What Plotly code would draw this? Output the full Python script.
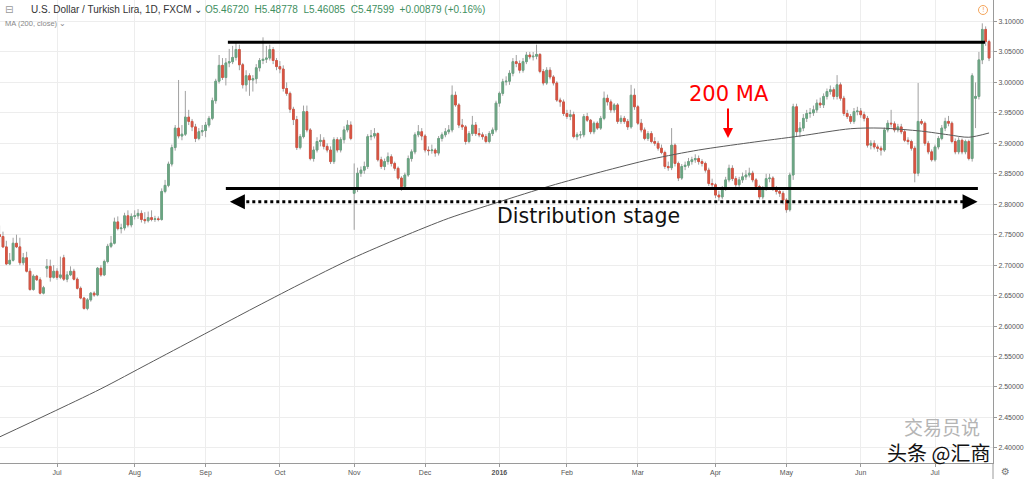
import pandas as pd
import plotly.graph_objects as go

# ---------------- data (USD/TRY daily) ----------------
opens = [
 2.750,2.747,2.730,2.702,2.708,2.736,2.730,2.704,2.712,2.690,
 2.660,2.682,2.676,2.654,2.695,2.698,2.680,2.690,2.680,2.712,
 2.677,2.684,2.690,2.677,2.662,2.646,2.629,2.643,2.654,2.651,
 2.695,2.684,2.706,2.731,2.736,2.771,2.760,2.761,2.781,2.766,
 2.780,2.781,2.785,2.775,2.773,2.778,2.775,2.776,2.775,2.821,
 2.831,2.866,2.893,2.925,2.912,2.915,2.943,2.936,2.927,2.908,
 2.919,2.921,2.930,2.941,2.970,3.002,3.028,3.008,3.032,3.034,
 3.041,3.054,3.029,2.996,3.011,3.004,3.006,3.024,3.036,3.038,
 3.040,3.054,3.036,3.026,3.022,2.990,2.982,2.956,2.939,2.893,
 2.911,2.952,2.922,2.875,2.889,2.903,2.905,2.895,2.889,2.870,
 2.906,2.889,2.906,2.922,2.930,2.818,2.826,2.851,2.856,2.862,
 2.911,2.912,2.916,2.873,2.862,2.870,2.878,2.867,2.859,2.843,
 2.829,2.848,2.875,2.886,2.914,2.919,2.912,2.889,2.888,2.889,
 2.884,2.908,2.914,2.919,2.922,2.979,2.963,2.930,2.927,2.903,
 2.916,2.930,2.916,2.914,2.911,2.903,2.916,2.922,2.966,2.982,
 3.001,3.002,3.015,3.034,3.031,3.020,3.034,3.045,3.042,3.043,
 3.046,3.018,2.999,3.020,3.009,2.999,2.971,2.968,2.949,2.944,
 2.947,2.911,2.914,2.914,2.944,2.938,2.919,2.933,2.925,2.941,
 2.974,2.968,2.955,2.963,2.936,2.941,2.936,2.927,2.979,2.960,
 2.933,2.922,2.908,2.916,2.903,2.900,2.892,2.885,2.862,2.860,
 2.897,2.867,2.843,2.862,2.864,2.870,2.873,2.875,2.870,2.867,
 2.856,2.834,2.832,2.815,2.812,2.826,2.840,2.859,2.842,2.832,
 2.840,2.845,2.848,2.851,2.840,2.829,2.812,2.826,2.842,2.843,
 2.826,2.821,2.818,2.807,2.791,2.848,2.960,2.919,2.925,2.941,
 2.949,2.950,2.955,2.966,2.963,2.977,2.985,2.988,2.977,2.996,
 2.974,2.949,2.944,2.936,2.952,2.953,2.947,2.941,2.897,2.900,
 2.894,2.892,2.889,2.922,2.933,2.932,2.922,2.927,2.919,2.905,
 2.903,2.892,2.851,2.936,2.933,2.900,2.886,2.873,2.894,2.908,
 2.925,2.936,2.933,2.903,2.886,2.905,2.886,2.903,2.875,2.974,
 2.977,3.037,3.087,3.067]
highs = [
 2.765,2.755,2.740,2.720,2.745,2.750,2.745,2.720,2.722,2.695,
 2.685,2.684,2.680,2.666,2.710,2.709,2.700,2.695,2.714,2.717,
 2.690,2.698,2.694,2.680,2.665,2.648,2.646,2.656,2.657,2.697,
 2.700,2.709,2.735,2.748,2.778,2.780,2.768,2.786,2.790,2.785,
 2.790,2.792,2.790,2.787,2.788,2.790,2.781,2.780,2.826,2.840,
 2.870,2.898,2.930,3.004,2.930,2.986,2.955,2.940,2.932,2.925,
 2.930,2.935,2.945,2.975,3.006,3.045,3.040,3.040,3.055,3.060,
 3.065,3.062,3.032,3.020,3.015,3.012,3.030,3.040,3.074,3.060,
 3.062,3.058,3.040,3.035,3.028,3.000,2.985,2.960,2.945,2.915,
 2.962,2.962,2.925,2.895,2.910,2.915,2.910,2.900,2.895,2.910,
 2.910,2.910,2.928,2.938,2.936,2.867,2.860,2.862,2.870,2.915,
 2.922,2.925,2.918,2.878,2.875,2.885,2.882,2.870,2.862,2.846,
 2.852,2.880,2.890,2.918,2.930,2.925,2.915,2.895,2.898,2.892,
 2.912,2.918,2.925,2.930,2.995,2.985,2.966,2.940,2.930,2.920,
 2.945,2.935,2.925,2.918,2.915,2.920,2.926,2.970,2.985,3.006,
 3.010,3.020,3.040,3.045,3.036,3.040,3.050,3.050,3.050,3.062,
 3.048,3.022,3.025,3.025,3.012,3.002,2.975,2.972,2.955,2.955,
 2.952,2.918,2.920,2.948,2.950,2.940,2.936,2.936,2.945,2.985,
 2.980,2.972,2.966,2.966,2.946,2.945,2.940,2.996,2.990,2.963,
 2.940,2.926,2.920,2.920,2.910,2.904,2.898,2.888,2.870,2.925,
 2.900,2.870,2.866,2.870,2.876,2.878,2.882,2.880,2.874,2.870,
 2.860,2.842,2.835,2.822,2.830,2.845,2.865,2.864,2.846,2.845,
 2.852,2.856,2.860,2.855,2.843,2.832,2.830,2.850,2.850,2.846,
 2.830,2.826,2.822,2.810,2.852,2.965,2.965,2.935,2.948,2.955,
 2.958,2.962,2.972,2.975,2.982,2.990,2.995,2.992,3.012,3.000,
 2.978,2.955,2.948,2.958,2.960,2.958,2.952,2.945,2.905,2.905,
 2.898,2.896,2.926,2.938,2.955,2.936,2.932,2.932,2.922,2.910,
 2.906,2.896,2.999,2.940,2.936,2.904,2.890,2.898,2.912,2.930,
 2.942,2.945,2.936,2.908,2.910,2.908,2.906,2.906,3.015,3.000,
 3.050,3.097,3.092,3.070]
lows = [
 2.737,2.728,2.700,2.700,2.706,2.728,2.700,2.700,2.688,2.658,
 2.658,2.674,2.652,2.652,2.680,2.673,2.678,2.676,2.677,2.674,
 2.672,2.682,2.675,2.660,2.644,2.627,2.626,2.640,2.648,2.649,
 2.681,2.682,2.703,2.728,2.734,2.757,2.752,2.757,2.762,2.762,
 2.775,2.776,2.770,2.768,2.770,2.772,2.771,2.772,2.773,2.818,
 2.828,2.862,2.888,2.908,2.905,2.912,2.930,2.920,2.902,2.905,
 2.912,2.910,2.926,2.938,2.965,2.998,3.004,2.995,3.025,3.030,
 3.036,3.020,2.990,2.985,2.978,2.985,2.998,3.018,3.030,3.032,
 3.036,3.030,3.020,3.015,2.985,2.978,2.950,2.930,2.889,2.890,
 2.908,2.918,2.872,2.870,2.885,2.895,2.890,2.885,2.866,2.866,
 2.885,2.885,2.900,2.918,2.905,2.758,2.820,2.845,2.850,2.858,
 2.905,2.908,2.870,2.858,2.856,2.865,2.862,2.855,2.840,2.822,
 2.825,2.845,2.870,2.882,2.910,2.905,2.885,2.880,2.883,2.878,
 2.880,2.903,2.910,2.915,2.918,2.960,2.925,2.922,2.898,2.900,
 2.912,2.912,2.910,2.906,2.900,2.900,2.912,2.918,2.960,2.978,
 2.995,2.996,3.010,3.025,3.015,3.016,3.030,3.038,3.036,3.038,
 3.015,2.995,2.996,3.005,2.995,2.968,2.960,2.945,2.940,2.938,
 2.908,2.905,2.908,2.910,2.935,2.915,2.915,2.922,2.922,2.938,
 2.962,2.950,2.950,2.932,2.932,2.932,2.922,2.924,2.955,2.930,
 2.918,2.905,2.904,2.900,2.896,2.888,2.882,2.858,2.855,2.856,
 2.862,2.838,2.840,2.856,2.860,2.865,2.868,2.865,2.862,2.852,
 2.830,2.828,2.810,2.805,2.808,2.822,2.836,2.838,2.828,2.828,
 2.835,2.840,2.844,2.836,2.826,2.808,2.808,2.822,2.836,2.822,
 2.816,2.812,2.800,2.786,2.788,2.840,2.912,2.910,2.920,2.935,
 2.942,2.945,2.950,2.958,2.958,2.972,2.980,2.972,2.972,2.970,
 2.945,2.940,2.932,2.932,2.946,2.942,2.936,2.893,2.890,2.890,
 2.886,2.880,2.886,2.918,2.926,2.918,2.918,2.915,2.902,2.898,
 2.888,2.836,2.846,2.930,2.896,2.882,2.870,2.870,2.890,2.905,
 2.920,2.928,2.900,2.882,2.882,2.882,2.882,2.872,2.870,2.925,
 2.972,3.030,3.060,3.035]
closes = [
 2.747,2.730,2.702,2.708,2.736,2.730,2.704,2.712,2.690,2.660,
 2.682,2.676,2.654,2.663,2.698,2.680,2.690,2.680,2.684,2.677,
 2.684,2.690,2.677,2.662,2.646,2.629,2.643,2.654,2.651,2.695,
 2.684,2.706,2.731,2.736,2.771,2.760,2.761,2.781,2.766,2.780,
 2.781,2.785,2.775,2.773,2.778,2.775,2.776,2.775,2.821,2.831,
 2.866,2.893,2.925,2.912,2.915,2.943,2.936,2.927,2.908,2.919,
 2.921,2.930,2.941,2.970,3.002,3.028,3.008,3.032,3.034,3.041,
 3.054,3.029,2.996,3.011,3.004,3.006,3.024,3.036,3.038,3.040,
 3.054,3.036,3.026,3.022,2.990,2.982,2.956,2.939,2.893,2.911,
 2.952,2.922,2.875,2.889,2.903,2.905,2.895,2.889,2.870,2.906,
 2.889,2.906,2.922,2.930,2.908,2.826,2.851,2.856,2.862,2.911,
 2.912,2.916,2.873,2.862,2.870,2.878,2.867,2.859,2.843,2.829,
 2.848,2.875,2.886,2.914,2.919,2.912,2.889,2.888,2.889,2.884,
 2.908,2.914,2.919,2.922,2.979,2.963,2.930,2.927,2.903,2.916,
 2.930,2.916,2.914,2.911,2.903,2.916,2.922,2.966,2.982,3.001,
 3.002,3.015,3.034,3.031,3.020,3.034,3.045,3.042,3.043,3.046,
 3.018,2.999,3.020,3.009,2.999,2.971,2.968,2.949,2.944,2.947,
 2.911,2.914,2.914,2.944,2.938,2.919,2.933,2.925,2.941,2.974,
 2.968,2.955,2.963,2.936,2.941,2.936,2.927,2.979,2.960,2.933,
 2.922,2.908,2.916,2.903,2.900,2.892,2.885,2.862,2.860,2.897,
 2.867,2.843,2.862,2.864,2.870,2.873,2.875,2.870,2.867,2.856,
 2.834,2.832,2.815,2.812,2.826,2.840,2.859,2.842,2.832,2.840,
 2.845,2.848,2.851,2.840,2.829,2.812,2.826,2.842,2.843,2.826,
 2.821,2.818,2.807,2.791,2.848,2.960,2.919,2.925,2.941,2.949,
 2.950,2.955,2.966,2.963,2.977,2.985,2.988,2.977,2.996,2.974,
 2.949,2.944,2.936,2.952,2.953,2.947,2.941,2.897,2.900,2.894,
 2.892,2.889,2.922,2.933,2.932,2.922,2.927,2.919,2.905,2.903,
 2.892,2.851,2.936,2.933,2.900,2.886,2.873,2.894,2.908,2.925,
 2.936,2.933,2.903,2.886,2.905,2.886,2.903,2.875,3.011,2.977,
 3.037,3.087,3.067,3.040]

# 200-day moving average, read at a few bars (bar number, value)
ma_bar = [0, 15, 30, 44, 59, 74, 89, 104, 119, 133, 148, 163, 178, 193, 207, 222, 237, 252, 261, 273, 281, 287, 293]
ma_val = [2.418, 2.457, 2.497, 2.538, 2.582, 2.626, 2.669, 2.710, 2.746, 2.777, 2.804, 2.830, 2.853,
          2.874, 2.889, 2.901, 2.912, 2.924, 2.925, 2.920, 2.914, 2.910, 2.917]

# month tick labels
tick_dates = ['2015-07-01', '2015-08-03', '2015-09-01', '2015-10-01', '2015-11-02', '2015-12-01',
              '2016-01-04', '2016-02-01', '2016-03-01', '2016-04-01', '2016-05-02', '2016-06-01', '2016-07-01']
tick_text = ['Jul', 'Aug', 'Sep', 'Oct', 'Nov', 'Dec', '<b>2016</b>', 'Feb', 'Mar', 'Apr', 'May', 'Jun', 'Jul']
y_ticks = [2.40, 2.45, 2.50, 2.55, 2.60, 2.65, 2.70, 2.75, 2.80, 2.85, 2.90, 2.95, 3.00, 3.05, 3.10]

# drawn levels
resistance_level = 3.066
support_level = 2.826
range_arrow_level = 2.804

# trading days (weekdays, no Christmas / New Year bar)
holidays = ['2015-12-25', '2016-01-01']
days = [d.strftime('%Y-%m-%d') for d in pd.bdate_range('2015-06-08', '2016-09-30')]
days = [d for d in days if d not in holidays]
dates = days[:len(closes)]
ma_x = [dates[i] for i in ma_bar]

UP, DOWN, WICK = '#6ba583', '#d75442', '#a0a0a0'
body_hi = [max(o, c) for o, c in zip(opens, closes)]
body_lo = [min(o, c) for o, c in zip(opens, closes)]

fig = go.Figure()
# wicks (grey)
fig.add_trace(go.Candlestick(
    x=dates, open=opens, high=highs, low=lows, close=closes,
    increasing=dict(line=dict(color=WICK, width=1), fillcolor=WICK),
    decreasing=dict(line=dict(color=WICK, width=1), fillcolor=WICK),
    hoverinfo='skip', showlegend=False))
# bodies (coloured)
fig.add_trace(go.Candlestick(
    x=dates, open=opens, high=body_hi, low=body_lo, close=closes,
    increasing=dict(line=dict(color=UP, width=1), fillcolor=UP),
    decreasing=dict(line=dict(color=DOWN, width=1), fillcolor=DOWN),
    showlegend=False))
# MA 200
fig.add_trace(go.Scatter(x=ma_x, y=ma_val, mode='lines',
                         line=dict(color='#5a5a5a', width=1, shape='spline', smoothing=0.8),
                         showlegend=False, hoverinfo='skip'))

W_PLOT, H_PLOT = 993, 463
def px(x):
    return x / W_PLOT
def py(y):
    return 1 - y / H_PLOT

shapes = [
    dict(type='line', xref='x', yref='y', x0=67.6, x1=291.8, y0=resistance_level, y1=resistance_level,
         line=dict(color='black', width=3)),
    dict(type='line', xref='x', yref='y', x0=67.0, x1=289.7, y0=support_level, y1=support_level,
         line=dict(color='black', width=3)),
    dict(type='line', xref='x', yref='y', x0=69.5, x1=288.2, y0=range_arrow_level, y1=range_arrow_level,
         line=dict(color='black', width=3, dash='3px,3px')),
    dict(type='circle', xref='paper', yref='paper', x0=px(978.5), x1=px(987.5), y0=py(14.5), y1=py(5.5),
         line=dict(color='#f5a55a', width=1)),
    dict(type='line', xref='paper', yref='paper', x0=1, x1=1, y0=0, y1=-16 / H_PLOT,
         line=dict(color='#9a9a9a', width=1)),
]

def label(x, y, text, size, color, family='DejaVu Sans', anchor='center'):
    return dict(x=px(x), y=py(y), xref='paper', yref='paper', xanchor=anchor, yanchor='middle',
                text=text, showarrow=False, font=dict(family=family, size=size, color=color))

ann = [
    dict(x=68.2, y=range_arrow_level, ax=70.0, ay=range_arrow_level, axref='x', ayref='y',
         xref='x', yref='y', text='', showarrow=True, arrowhead=2, arrowsize=1, arrowwidth=3, arrowcolor='black'),
    dict(x=289.6, y=range_arrow_level, ax=287.8, ay=range_arrow_level, axref='x', ayref='y',
         xref='x', yref='y', text='', showarrow=True, arrowhead=2, arrowsize=1, arrowwidth=3, arrowcolor='black'),
    label(588, 216, 'Distribution stage', 20.5, '#111111'),
    label(729, 94, '200 MA', 21, '#ff0000'),
    dict(x=px(728), y=py(138), xref='paper', yref='paper', ax=0, ay=-31, text='', showarrow=True,
         arrowhead=2, arrowsize=1, arrowwidth=2, arrowcolor='#ff0000'),
    label(3, 9, '⊟', 10, '#999999', anchor='left'),
    label(29, 9, 'U.S. Dollar / Turkish Lira, 1D, FXCM ⌄', 10, '#333333', 'Liberation Sans', 'left'),
    label(203, 9, 'O5.46720  H5.48778  L5.46085  C5.47599  +0.00879 (+0.16%)', 10, '#3f8f5f',
          'Liberation Sans', 'left'),
    label(3, 24, 'MA (200, close) ⌄', 7.5, '#888888', 'Liberation Sans', 'left'),
    label(983, 10, '!', 7, '#f5a55a'),
    label(942, 426, '交易员说', 19, '#b5b5b5', 'Noto Sans CJK SC'),
    label(938, 452, '头条 @汇商', 20, '#111111', 'Noto Sans CJK SC'),
    label(1006, 471, '⚙', 10, '#777777'),
]

fig.update_layout(
    template='none',
    width=1024, height=479,
    margin=dict(l=0, r=31, t=0, b=16, pad=0),
    paper_bgcolor='white', plot_bgcolor='white',
    showlegend=False,
    shapes=shapes, annotations=ann,
    xaxis=dict(type='category', range=[0.12, 294.17], rangeslider=dict(visible=False),
               tickmode='array', tickvals=tick_dates, ticktext=tick_text,
               showgrid=True, gridcolor='#ededed', gridwidth=1,
               showline=True, linecolor='#9a9a9a', linewidth=1,
               ticks='outside', ticklen=3, tickcolor='#9a9a9a',
               tickfont=dict(family='Liberation Sans', size=7, color='#555555'),
               automargin=False, zeroline=False, fixedrange=True),
    yaxis=dict(side='right', range=[2.3752, 3.1353],
               tickmode='array', tickvals=y_ticks, ticktext=[f'{v:.5f}' for v in y_ticks],
               showgrid=True, gridcolor='#ededed', gridwidth=1,
               showline=True, linecolor='#9a9a9a', linewidth=1,
               ticks='outside', ticklen=3, tickcolor='#9a9a9a',
               tickfont=dict(family='Liberation Sans', size=7, color='#555555'),
               automargin=False, zeroline=False),
)

fig.write_html('out.html')
